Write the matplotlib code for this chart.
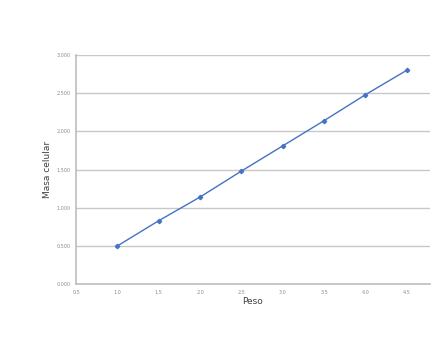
"""Masa celular frente a peso."""
import matplotlib.pyplot as plt

peso = [1.0, 1.5, 2.0, 2.5, 3.0, 3.5, 4.0, 4.5]
masa_celular = [0.50, 0.83, 1.14, 1.48, 1.81, 2.14, 2.48, 2.80]
x_ticks = [0.5, 1.0, 1.5, 2.0, 2.5, 3.0, 3.5, 4.0, 4.5]
y_ticks = [0.0, 0.5, 1.0, 1.5, 2.0, 2.5, 3.0]

fig = plt.figure(figsize=(4.45, 3.46), dpi=100)
ax = fig.add_axes([0.171, 0.179, 0.795, 0.662])

ax.plot(peso, masa_celular, color='#4472C4', linewidth=1.0,
        marker='D', markersize=2.2)

ax.set_xlim(0.5, 4.78)
ax.set_ylim(0.0, 3.0)
ax.set_xticks(x_ticks)
ax.set_yticks(y_ticks)
ax.set_xticklabels([f'{v:.1f}' for v in x_ticks])
ax.set_yticklabels([f'{v:.3f}' for v in y_ticks])
ax.tick_params(labelsize=3.5, colors='#8c8c8c', length=0, pad=4)

ax.yaxis.grid(True, color='#c8c8c8', linewidth=1.0)
ax.set_axisbelow(True)
for side in ['top', 'right']:
    ax.spines[side].set_visible(False)
for side in ['left', 'bottom']:
    ax.spines[side].set_color('#bdbdbd')
    ax.spines[side].set_linewidth(1.2)

ax.set_xlabel('Peso', fontsize=6.5, color='#404040', labelpad=2)
ax.set_ylabel('Masa celular', fontsize=6.5, color='#404040', labelpad=3)

fig.savefig('out.png', dpi=100)
